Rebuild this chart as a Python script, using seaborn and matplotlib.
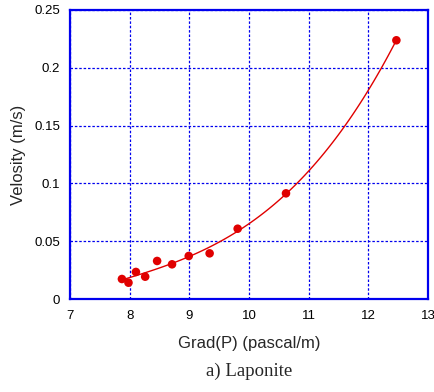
import matplotlib
matplotlib.use("Agg")
import matplotlib.pyplot as plt
import seaborn as sns
import numpy as np
import pandas as pd

grad_p = [7.87, 7.98, 8.105, 8.26, 8.46, 8.71, 8.99, 9.34, 9.81, 10.62, 12.47]
velocity = [0.0173, 0.0141, 0.0234, 0.0193, 0.0329, 0.0300, 0.0372, 0.0395, 0.0608, 0.0914, 0.2238]
x_ticks = [7, 8, 9, 10, 11, 12, 13]
y_ticks = [0, 0.05, 0.1, 0.15, 0.2, 0.25]
y_tick_labels = ["0", "0.05", "0.1", "0.15", "0.2", "0.25"]

df = pd.DataFrame({"grad": grad_p, "vel": velocity})

sns.set_style("white")
plt.rcParams['font.family'] = ['Liberation Sans', 'DejaVu Sans']

fig = plt.figure(figsize=(4.35, 3.92), dpi=100)
ax = fig.add_axes([70/435, 1-299/392, (428-70)/435, (299-10)/392])

sns.regplot(data=df, x="grad", y="vel", order=3, ci=None, ax=ax,
            scatter_kws=dict(color="#e00000", s=38, edgecolor="none", alpha=1, zorder=3),
            line_kws=dict(color="#e00000", lw=1.0))

ax.set_xlim(7, 13)
ax.set_ylim(0, 0.25)
ax.set_xticks(x_ticks)
ax.set_xticklabels([str(t) for t in x_ticks])
ax.set_yticks(y_ticks)
ax.set_yticklabels(y_tick_labels)
ax.tick_params(axis="y", length=0, labelsize=9.5, pad=7, colors="black")
ax.tick_params(axis="x", length=0, labelsize=9.5, pad=8, colors="black")
ax.grid(True, color="#0000ee", linestyle=(0, (2, 1.5)), linewidth=0.9)
ax.set_axisbelow(True)
for s in ax.spines.values():
    s.set_visible(True)
    s.set_color("#0000ee")
    s.set_linewidth(1.6)

ax.set_xlabel("Grad(P) (pascal/m)", fontsize=12, labelpad=10)
ax.set_ylabel("Velosity (m/s)", fontsize=12, labelpad=6)
fig.text((70+428)/2/435, 1-371/392, "a) Laponite", ha="center", va="center",
         fontsize=13.5, family=["Liberation Serif", "DejaVu Serif"])

fig.savefig("out.png", dpi=100)
